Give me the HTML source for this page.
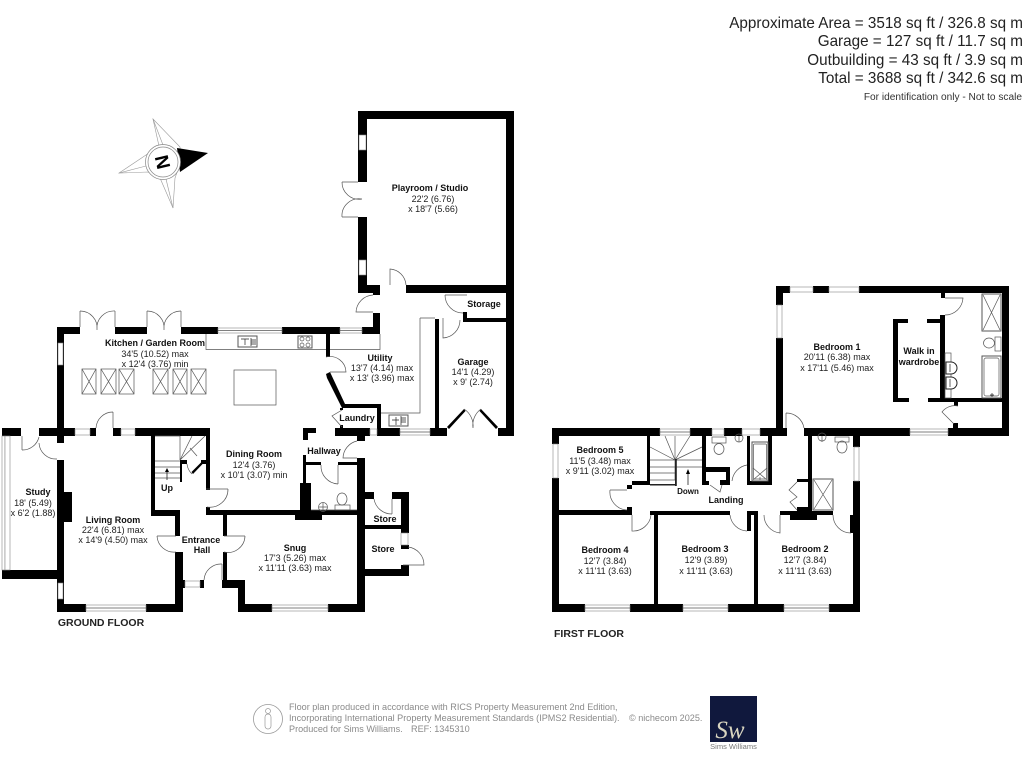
<!DOCTYPE html>
<html><head><meta charset="utf-8"><style>
html,body{margin:0;padding:0;background:#fff;width:1024px;height:768px;overflow:hidden}
svg{display:block;filter:blur(.3px)}
text{font-family:"Liberation Sans",sans-serif;fill:#222}
.b{font-weight:bold;font-size:9px;text-anchor:middle;fill:#111}
.r{font-size:9px;text-anchor:middle;fill:#222}
.w{fill:#000;stroke:none}
.l{fill:none;stroke:#555;stroke-width:.7}
.k{fill:none;stroke:#222;stroke-width:.8}
.g{fill:#fff;stroke:#888;stroke-width:.6}
.t{font-size:15.25px;text-anchor:end;fill:#222}
.f{font-size:9.1px;fill:#8a8a8a}
</style></head><body>
<svg width="1024" height="768" viewBox="0 0 1024 768" xmlns="http://www.w3.org/2000/svg">
<rect width="1024" height="768" fill="#fff"/>

<!-- header -->
<text class="t" x="1023" y="28">Approximate Area = 3518 sq ft / 326.8 sq m</text>
<text class="t" x="1023" y="46">Garage = 127 sq ft / 11.7 sq m</text>
<text class="t" x="1023" y="65">Outbuilding = 43 sq ft / 3.9 sq m</text>
<text class="t" x="1023" y="83">Total = 3688 sq ft / 342.6 sq m</text>
<text x="1022" y="100" style="font-size:10.15px;text-anchor:end;fill:#333">For identification only - Not to scale</text>

<!-- compass -->
<g>
<path d="M153 119 L159 146 L146 155 L119 173 L148 172 L160 178 L173 208 L175 178 L181 161 L180 147 Z" fill="#fff" stroke="#999" stroke-width=".6"/>
<path d="M153 119 L163 145 M119 173 L146 166 M173 208 L166 179" stroke="#999" stroke-width=".6" fill="none"/>
<path d="M177 148 L208 153 L180 172 Z" fill="#000"/>
<circle cx="163" cy="162" r="17.5" fill="#fff" stroke="#888" stroke-width=".7"/>
<circle cx="163" cy="162" r="15" fill="#fff" stroke="#888" stroke-width=".7"/>
<text x="163" y="162" transform="rotate(77 163 162)" style="font-size:19px;font-weight:bold;fill:#000;text-anchor:middle" dy="7">N</text>
</g>

<!-- GROUND FLOOR walls -->
<g class="w">
<!-- playroom -->
<rect x="358" y="111" width="156" height="8"/>
<rect x="358" y="111" width="9" height="71"/>
<rect x="506" y="111" width="8" height="325"/>
<rect x="358" y="217" width="9" height="76"/>
<rect x="358" y="285" width="22" height="8"/>
<rect x="406" y="285" width="108" height="8"/>
<rect x="373" y="313" width="7" height="21"/>
<rect x="373" y="293" width="7" height="2"/>
<!-- kitchen top -->
<rect x="57" y="327" width="23" height="7"/>
<rect x="115" y="327" width="32" height="7"/>
<rect x="181" y="327" width="37" height="7"/>
<rect x="282" y="327" width="58" height="7"/>
<rect x="362" y="327" width="18" height="7"/>
<rect x="57" y="327" width="7" height="116"/>
<!-- study + living top -->
<rect x="2" y="428" width="19" height="8"/>
<rect x="39" y="428" width="36" height="8"/>
<rect x="90" y="428" width="6" height="8"/>
<rect x="113" y="428" width="8" height="8"/>
<rect x="135" y="428" width="75" height="8"/>
<rect x="2" y="570" width="55" height="9"/>
<rect x="57" y="460" width="7" height="152"/>
<rect x="64" y="492" width="8" height="30"/>
<rect x="57" y="604" width="29" height="8"/>
<rect x="146" y="604" width="37" height="8"/>
<rect x="175" y="552" width="8" height="60"/>
<rect x="176" y="580" width="9" height="8"/>
<rect x="200" y="580" width="4" height="8"/>
<!-- stair/hall -->
<rect x="151" y="436" width="4" height="80"/>
<rect x="151" y="510" width="29" height="6"/>
<rect x="175" y="510" width="5" height="26"/>
<rect x="180" y="461" width="2" height="21"/>
<rect x="180" y="460" width="7" height="4"/>
<rect x="201" y="460" width="5" height="4"/>
<path d="M191.500 472 L203 460.500 L204.500 462 L193 474 Z"/>
<rect x="206" y="428" width="4" height="62"/>
<rect x="206" y="507" width="4" height="8"/>
<!-- snug -->
<rect x="206" y="510" width="151" height="5"/>
<rect x="295" y="514" width="27" height="6"/>
<rect x="300" y="483" width="11" height="31"/>
<rect x="303" y="455" width="3" height="28"/>
<rect x="223" y="515" width="4" height="21"/>
<rect x="223" y="552" width="4" height="30"/>
<rect x="222" y="580" width="23" height="8"/>
<rect x="238" y="580" width="7" height="32"/>
<rect x="238" y="604" width="34" height="8"/>
<rect x="328" y="604" width="37" height="8"/>
<rect x="357" y="458" width="8" height="154"/>
<rect x="357" y="435" width="8" height="6"/>
<rect x="306" y="462" width="15" height="3"/>
<rect x="338" y="462" width="19" height="3"/>
<!-- dining stub -->
<path d="M303 428 H316 V433 H308 V440 H303 Z"/>
<!-- stores -->
<rect x="365" y="492" width="9" height="7"/>
<rect x="392" y="492" width="17" height="7"/>
<rect x="401" y="492" width="8" height="41"/>
<rect x="365" y="525" width="36" height="4"/>
<rect x="401" y="545" width="8" height="4"/>
<rect x="365" y="569" width="44" height="7"/>
<rect x="401" y="565" width="8" height="5"/>
<!-- kitchen/utility -->
<rect x="326" y="334" width="4" height="23"/>
<path d="M326 374 L330 372 L345 404 L381 404 V428 H377 V408 H342 L327 378 Z"/>
<rect x="340" y="408" width="3" height="2"/>
<rect x="340" y="425" width="3" height="4"/>
<rect x="335" y="428" width="35" height="8"/>
<rect x="357" y="435" width="8" height="6"/>
<rect x="377" y="428" width="23" height="8"/>
<rect x="430" y="428" width="17" height="8"/>
<rect x="435" y="319" width="4" height="110"/>
<rect x="498" y="428" width="16" height="8"/>
<rect x="463" y="318" width="43" height="4"/>
<rect x="463" y="312" width="4" height="10"/>
</g>

<!-- ground windows -->
<g>
<rect class="g" x="359" y="135" width="7" height="15"/><rect class="g" x="359" y="260" width="7" height="15"/>
<rect class="g" x="218" y="328" width="64" height="5"/><line class="l" x1="218" y1="330.500" x2="282" y2="330.500"/>
<rect class="g" x="340" y="328" width="22" height="5"/><line class="l" x1="340" y1="330.500" x2="362" y2="330.500"/>
<rect class="g" x="58" y="343" width="5" height="22"/>
<rect class="g" x="75" y="429" width="15" height="6"/><rect class="g" x="121" y="429" width="14" height="6"/>
<rect class="g" x="2" y="436" width="3" height="134"/><rect class="g" x="5" y="436" width="5" height="134"/>
<rect class="g" x="58" y="583" width="5" height="16"/>
<rect class="g" x="86" y="605" width="60" height="6"/><line class="l" x1="86" y1="608" x2="146" y2="608"/>
<rect class="g" x="185" y="581" width="15" height="6"/>
<rect class="g" x="272" y="605" width="56" height="6"/><line class="l" x1="272" y1="608" x2="328" y2="608"/>
<rect class="g" x="401" y="533" width="7" height="12"/>
<rect class="g" x="370" y="429" width="7" height="6"/>
<rect class="g" x="400" y="429" width="30" height="6"/><line class="l" x1="400" y1="432" x2="430" y2="432"/>
</g>

<!-- ground thin lines + doors -->
<g class="l">
<path d="M206 334 V349.500 H326 M330 349.500 H380 V334"/>
<path d="M420 318 H435 M420 318 V413 H381"/>
<rect x="234" y="370" width="42" height="35"/>
<g>
<rect x="82" y="369" width="14" height="25"/><path d="M82 369 L96 394 M96 369 L82 394"/>
<rect x="101" y="369" width="15" height="25"/><path d="M101 369 L116 394 M116 369 L101 394"/>
<rect x="119" y="369" width="15" height="25"/><path d="M119 369 L134 394 M134 369 L119 394"/>
<rect x="153" y="369" width="15" height="25"/><path d="M153 369 L168 394 M168 369 L153 394"/>
<rect x="173" y="369" width="14" height="25"/><path d="M173 369 L187 394 M187 369 L173 394"/>
<rect x="191" y="369" width="15" height="25"/><path d="M191 369 L206 394 M206 369 L191 394"/>
</g>
<!-- kitchen french -->
<path d="M80 311 V327 M115 311 V327 M147 311 V327 M181 311 V327"/>
<path d="M80 311 A17 17 0 0 1 97 330 M115 311 A17 17 0 0 0 97 330"/>
<path d="M147 311 A17 17 0 0 1 164 330 M181 311 A17 17 0 0 0 164 330"/>
<!-- doors -->
<path d="M113 412 V428 M113 412 A17 17 0 0 0 96 428"/>
<path d="M22 436 V450 M22 450 A17 17 0 0 0 39 437"/>
<path d="M39 443 A17 17 0 0 0 57 459"/>
<path d="M157 536 H176 M157 536 A17 17 0 0 0 176 552"/>
<path d="M245 536 H224 M245 536 A17 17 0 0 1 224 552"/>
<path d="M222 564 V580 M222 564 A17 17 0 0 0 204 580"/>
<path d="M206 489 H228 M228 489 A18 18 0 0 1 207 507"/>
<path d="M187 464 A16 16 0 0 0 192 474"/>
<path d="M180 436 V460 M155 436 H180"/>
<path d="M155 461 H180 M155 467 H180 M155 473 H180 M155 478 H180"/>
<path d="M180 460 L192 436 M180 460 L205 436 M190 448 L197 456"/>
<path d="M357 441 A18 18 0 0 0 343 458 H357"/>
<path d="M338 465 V484 M321 465 A18 18 0 0 0 338 484"/>
<path d="M392 499 V514 M374 499 A18 18 0 0 0 392 514"/>
<path d="M408 547 A18 18 0 0 1 424 565 H403"/>
<path d="M342 410 L332 416 L342 427"/>
<path d="M326 357 A16 16 0 0 1 346 372 H330"/>
<path d="M390 285 V269 A17 17 0 0 1 406 285"/>
<path d="M373 295 A18 18 0 0 0 356 312 H373"/>
<path d="M445 295 H467 M445 295 A18 18 0 0 0 463 313"/>
<path d="M443 318 V338 A18 18 0 0 0 460 320"/>
<!-- playroom french -->
<path d="M342 182 H358 M342 217 H358 M342 182 A17 17 0 0 0 362 199 M342 217 A17 17 0 0 1 362 199"/>
<!-- toilet/basin -->
<ellipse cx="342" cy="499" rx="5" ry="6"/><rect x="335" y="505" width="15" height="5"/>
<circle cx="323" cy="507" r="4.500"/><path d="M323 503 V511 M319 507 H327"/>
<line x1="311" y1="510" x2="357" y2="510"/>
<!-- sink / hob -->
<rect x="238" y="336" width="19" height="11" fill="#fff" stroke-width="1"/>
<path d="M241 339 H249 M245 339 V345 M251 338 V346 M251 340 H256 M251 342 H256 M251 344 H256" stroke="#222"/>
<rect x="298" y="336" width="14" height="12" stroke-width="1"/>
<circle cx="302" cy="339" r="2"/><circle cx="308" cy="339" r="2"/><circle cx="302" cy="345" r="2"/><circle cx="308" cy="345" r="2"/>
<rect x="389" y="415" width="19" height="11" stroke-width="1" fill="#fff"/>
<path d="M392 420 H399 M396 417 V425 M401 416 V425 M401 418 H406 M401 420 H406 M401 422 H406" stroke="#222"/>
</g>
<!-- garage door -->
<path d="M447 427 L464 409 L465.500 411 L449 429 Z M498 427 L481 409 L479.500 411 L496 429 Z" fill="#000"/>
<path class="l" d="M464 409 A20 20 0 0 1 473 428 M481 409 A20 20 0 0 0 473 428"/>
<!-- up arrow -->
<path d="M167 480 V470" class="k"/><path d="M165 472 L167 468 L169 472 Z" fill="#000"/>

<!-- FIRST FLOOR walls -->
<g class="w">
<!-- bedroom 1 -->
<rect x="776" y="286" width="14" height="7"/>
<rect x="813" y="286" width="16" height="7"/>
<rect x="859" y="286" width="150" height="7"/>
<rect x="1002" y="286" width="7" height="150"/>
<rect x="776" y="286" width="7" height="19"/>
<rect x="776" y="338" width="7" height="98"/>
<rect x="760" y="428" width="27" height="8"/>
<rect x="804" y="428" width="106" height="8"/>
<rect x="948" y="428" width="61" height="8"/>
<!-- wardrobe -->
<rect x="893" y="319" width="5" height="83"/>
<rect x="893" y="319" width="15" height="4"/>
<rect x="893" y="398" width="16" height="4"/>
<rect x="927" y="319" width="13" height="4"/>
<rect x="940" y="315" width="5" height="87"/>
<rect x="928" y="398" width="74" height="4"/>
<rect x="941" y="293" width="4" height="5"/>
<rect x="954" y="402" width="4" height="4"/>
<rect x="953" y="423" width="5" height="5"/>
<!-- first floor main -->
<rect x="552" y="428" width="108" height="8"/>
<rect x="690" y="428" width="22" height="8"/>
<rect x="724" y="428" width="18" height="8"/>
<rect x="760" y="428" width="27" height="8"/>
<rect x="552" y="428" width="7" height="16"/>
<rect x="552" y="478" width="7" height="134"/>
<rect x="552" y="604" width="33" height="8"/>
<rect x="630" y="604" width="53" height="8"/>
<rect x="728" y="604" width="56" height="8"/>
<rect x="829" y="604" width="31" height="8"/>
<rect x="853" y="481" width="7" height="131"/>
<rect x="853" y="436" width="7" height="11"/>
<rect x="647" y="436" width="3" height="49"/>
<rect x="632" y="481" width="18" height="4"/>
<rect x="627" y="485" width="5" height="4"/>
<rect x="559" y="510" width="73" height="5"/>
<rect x="627" y="507" width="5" height="8"/>
<rect x="654" y="511" width="4" height="93"/>
<rect x="650" y="511" width="80" height="4"/>
<rect x="747" y="511" width="10" height="4"/>
<rect x="747" y="511" width="4" height="20"/>
<rect x="754" y="511" width="4" height="93"/>
<rect x="780" y="511" width="53" height="4"/>
<rect x="790" y="514" width="27" height="6"/>
<rect x="808" y="436" width="4" height="76"/>
<rect x="797" y="479" width="11" height="3"/>
<rect x="797" y="507" width="11" height="4"/>
<rect x="850" y="515" width="3" height="18"/>
<!-- bath block -->
<rect x="702" y="436" width="4" height="49"/>
<rect x="702" y="481" width="7" height="4"/>
<rect x="702" y="467" width="28" height="5"/>
<rect x="726" y="467" width="4" height="15"/>
<rect x="720" y="480" width="10" height="5"/>
<rect x="747" y="436" width="3" height="49"/>
<rect x="768" y="436" width="4" height="49"/>
<rect x="748" y="481" width="24" height="4"/>
</g>
<g>
<rect class="g" x="790" y="287" width="23" height="5"/><rect class="g" x="829" y="287" width="30" height="5"/>
<rect class="g" x="777" y="305" width="5" height="33"/>
<rect class="g" x="910" y="429" width="38" height="6"/><line class="l" x1="910" y1="432" x2="948" y2="432"/>
<rect class="g" x="660" y="429" width="30" height="6"/><line class="l" x1="660" y1="432" x2="690" y2="432"/>
<rect class="g" x="712" y="429" width="12" height="6"/><rect class="g" x="742" y="429" width="18" height="6"/>
<rect class="g" x="553" y="444" width="5" height="34"/>
<rect class="g" x="854" y="447" width="5" height="34"/>
<rect class="g" x="585" y="605" width="45" height="6"/><line class="l" x1="585" y1="608" x2="630" y2="608"/>
<rect class="g" x="683" y="605" width="45" height="6"/><line class="l" x1="683" y1="608" x2="728" y2="608"/>
<rect class="g" x="784" y="605" width="45" height="6"/><line class="l" x1="784" y1="608" x2="829" y2="608"/>
</g>
<g class="l">
<!-- bedroom doors -->
<path d="M786 413 V428 M786 413 A18 18 0 0 1 804 428"/>
<path d="M945 298 H963 A18 18 0 0 1 945 315"/>
<path d="M958 406 A16 16 0 0 0 942 412 L954 424"/>
<path d="M632 515 V531 A18 18 0 0 0 651 515"/>
<path d="M730 515 A18 18 0 0 0 747 531"/>
<path d="M764 515 A18 18 0 0 0 780 533 V515"/>
<path d="M833 515 A18 18 0 0 0 851 533"/>
<path d="M610 490 H627 M610 490 A18 18 0 0 0 627 510"/>
<path d="M732 481 A18 18 0 0 1 747 465"/>
<path d="M710 485 L720 492 L722 485"/>
<path d="M797 482 L789 490 L797 497 L790 502 L797 510"/>
<!-- shower/bath -->
<rect x="813" y="479" width="20" height="31" stroke-width="1"/><path d="M814 480 L832 509 M832 480 L814 509"/>
<rect x="982" y="294" width="19" height="37" stroke-width="1"/><path d="M983 295 L1000 330 M1000 295 L983 330"/>
<rect x="982" y="356" width="19" height="42" stroke-width="1"/><rect x="984" y="358" width="15" height="38" rx="2"/>
<path d="M992 393 V397 M990 395 H994" stroke="#222"/>
<rect x="752" y="442" width="16" height="39" stroke-width="1"/><rect x="753.500" y="444" width="13" height="35" rx="1"/>
<path d="M753 468 L767 480 M767 468 L753 480 M760 477 V480"/>
<!-- toilets and basins -->
<ellipse cx="989" cy="343" rx="5.500" ry="5"/><rect x="995" y="337" width="6" height="14"/>
<ellipse cx="719" cy="449" rx="5" ry="5.500"/><rect x="712" y="437" width="14" height="6"/>
<ellipse cx="842" cy="447" rx="5" ry="6"/><rect x="835" y="437" width="14" height="5"/>
<circle cx="739" cy="438" r="4"/><path d="M739 436 V442"/>
<circle cx="822" cy="437" r="4"/><path d="M822 436 V442"/>
<rect x="945" y="353" width="6" height="45"/>
<path d="M946 362 H951 A6 6 0 0 1 951 374 H946 Z M946 377 H951 A6 6 0 0 1 951 389 H946 Z" fill="#fff" stroke="#222" stroke-width="1"/>
<path d="M950 364 V372 M950 379 V387" stroke="#222"/>
<!-- stairs -->
<path d="M650 467 H675 M650 473 H675 M650 480 H675 M650 485 H675 M675 436 V480"/>
<path d="M650 447 L675 460 L665 436 M650 460 L675 460 L690 436 M675 460 L702 447 M675 460 L702 460 M675 467 H702"/>
</g>
<rect x="675" y="459" width="1.800" height="27" fill="#222"/>
<rect x="650" y="484" width="26" height="1.500" fill="#222"/>
<path d="M688 485 V473" class="k"/><path d="M686 474 L688 469 L690 474 Z" fill="#000"/>

<!-- LABELS -->
<text class="b" x="155" y="346">Kitchen / Garden Room</text>
<text class="r" x="155" y="357">34'5 (10.52) max</text>
<text class="r" x="155" y="367">x 12'4 (3.76) min</text>

<text class="b" x="430" y="191">Playroom / Studio</text>
<text class="r" x="433" y="202">22'2 (6.76)</text>
<text class="r" x="433" y="212">x 18'7 (5.66)</text>

<text class="b" x="484" y="307">Storage</text>

<text class="b" x="380" y="361">Utility</text>
<text class="r" x="382" y="371">13'7 (4.14) max</text>
<text class="r" x="382" y="381">x 13' (3.96) max</text>

<text class="b" x="473" y="365">Garage</text>
<text class="r" x="473" y="375">14'1 (4.29)</text>
<text class="r" x="473" y="385">x 9' (2.74)</text>

<text class="b" x="357" y="421">Laundry</text>
<text class="b" x="324" y="454">Hallway</text>

<text class="b" x="254" y="457">Dining Room</text>
<text class="r" x="254" y="468">12'4 (3.76)</text>
<text class="r" x="254" y="478">x 10'1 (3.07) min</text>

<text class="b" x="38" y="495">Study</text>
<text class="r" x="33" y="506">18' (5.49)</text>
<text class="r" x="33" y="516">x 6'2 (1.88)</text>

<text class="b" x="113" y="523">Living Room</text>
<text class="r" x="113" y="533">22'4 (6.81) max</text>
<text class="r" x="113" y="543">x 14'9 (4.50) max</text>

<text class="b" x="201" y="543">Entrance</text>
<text class="b" x="202" y="553">Hall</text>
<text class="b" x="167" y="491">Up</text>

<text class="b" x="295" y="551">Snug</text>
<text class="r" x="295" y="561">17'3 (5.26) max</text>
<text class="r" x="295" y="571">x 11'11 (3.63) max</text>

<text class="b" x="385" y="522">Store</text>
<text class="b" x="383" y="552">Store</text>

<text x="101" y="626" style="font-size:10.500px;font-weight:bold;text-anchor:middle;fill:#222">GROUND FLOOR</text>

<text class="b" x="600" y="453">Bedroom 5</text>
<text class="r" x="600" y="464">11'5 (3.48) max</text>
<text class="r" x="600" y="474">x 9'11 (3.02) max</text>

<text class="b" x="688" y="494" style="font-size:8px">Down</text>
<text class="b" x="726" y="503">Landing</text>

<text class="b" x="605" y="553">Bedroom 4</text>
<text class="r" x="605" y="564">12'7 (3.84)</text>
<text class="r" x="605" y="574">x 11'11 (3.63)</text>

<text class="b" x="705" y="552">Bedroom 3</text>
<text class="r" x="706" y="563">12'9 (3.89)</text>
<text class="r" x="706" y="574">x 11'11 (3.63)</text>

<text class="b" x="805" y="552">Bedroom 2</text>
<text class="r" x="805" y="563">12'7 (3.84)</text>
<text class="r" x="805" y="574">x 11'11 (3.63)</text>

<text x="589" y="637" style="font-size:10.500px;font-weight:bold;text-anchor:middle;fill:#222">FIRST FLOOR</text>

<text class="b" x="837" y="350">Bedroom 1</text>
<text class="r" x="837" y="360">20'11 (6.38) max</text>
<text class="r" x="837" y="371">x 17'11 (5.46) max</text>

<text class="b" x="919" y="354">Walk in</text>
<text class="b" x="919" y="365">wardrobe</text>

<!-- footer -->
<circle cx="268" cy="719" r="14.500" fill="none" stroke="#999" stroke-width=".8"/>
<circle cx="268" cy="711" r="2.500" fill="none" stroke="#999" stroke-width=".7"/>
<rect x="265" y="714" width="6" height="15" rx="3" fill="none" stroke="#999" stroke-width=".7"/>
<text class="f" x="289" y="710">Floor plan produced in accordance with RICS Property Measurement 2nd Edition,</text>
<text class="f" x="289" y="721">Incorporating International Property Measurement Standards (IPMS2 Residential).</text>
<text class="f" x="629" y="721">© nichecom 2025.</text>
<text class="f" x="289" y="732">Produced for Sims Williams.</text>
<text class="f" x="411" y="732">REF: 1345310</text>
<rect x="710" y="696" width="47" height="46" fill="#10183d"/>
<text x="730" y="738" style="font-family:'Liberation Serif',serif;font-style:italic;font-size:25px;fill:#d8d4c0;text-anchor:middle">Sw</text>
<text x="733.500" y="749" style="font-size:7.500px;fill:#777;text-anchor:middle">Sims Williams</text>
</svg>
</body></html>
